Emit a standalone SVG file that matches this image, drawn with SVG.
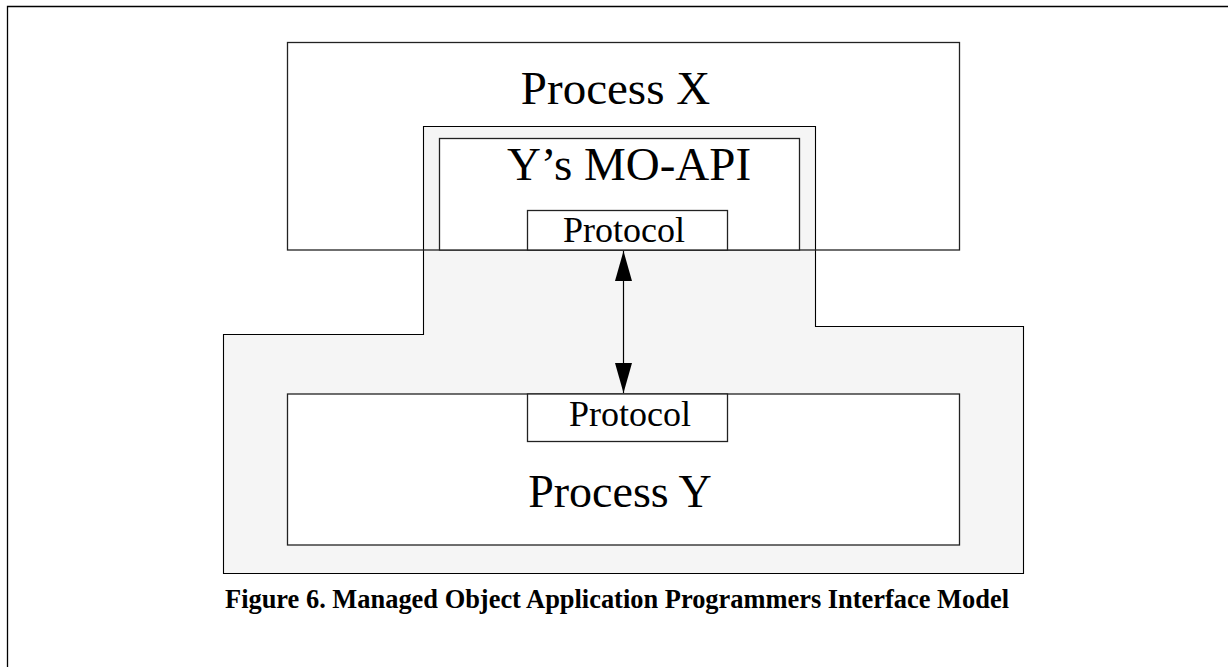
<svg xmlns="http://www.w3.org/2000/svg" width="1228" height="667" viewBox="0 0 1228 667">
  <style>
    .frame { fill: none; stroke: #000; stroke-width: 1.3; }
    .region { fill: #f5f5f5; stroke: #000; stroke-width: 1.1; }
    .box { fill: #fff; stroke: #222; stroke-width: 1.3; }
    .outline { fill: none; stroke: #222; stroke-width: 1.3; }
    .label { font-family: "Liberation Serif", "Times New Roman", serif; fill: #000; text-anchor: middle; }
    .big { font-size: 47px; }
    .small { font-size: 36px; }
    .caption { font-family: "Liberation Serif", "Times New Roman", serif; font-weight: bold; font-size: 27px; fill: #000; }
    .link { stroke: #000; stroke-width: 1.2; fill: none; }
  </style>
  <defs>
    <marker id="head" viewBox="0 0 30 17" refX="30" refY="8.5" markerWidth="30" markerHeight="17" markerUnits="userSpaceOnUse" orient="auto-start-reverse">
      <path d="M0,0 L30,8.5 L0,17 Z" fill="#000"/>
    </marker>
  </defs>

  <rect width="1228" height="667" fill="#fff"/>

  <!-- page frame: left and top rules only -->
  <path class="frame" d="M7.5,667 V6.5 H1228"/>

  <!-- shaded region holding Process Y and its API inside Process X -->
  <g id="y-domain">
    <path class="region" d="M223.5,334.5 H423.5 V126.5 H815.5 V326.5 H1023.5 V573.5 H223.5 Z"/>
  </g>

  <g id="process-x">
    <rect class="outline" x="287.5" y="42.5" width="672" height="207.5"/>
    <text class="label big" x="615.5" y="104">Process X</text>
  </g>

  <g id="mo-api">
    <rect class="box" x="439.5" y="138.5" width="360" height="111.5"/>
    <text class="label big" x="629" y="179.5">Y’s MO-API</text>
  </g>

  <g id="protocol-x">
    <rect class="box" x="527.5" y="210.5" width="200" height="39.5"/>
    <text class="label small" x="624" y="241.5">Protocol</text>
  </g>

  <g id="process-y">
    <rect class="box" x="287.5" y="394" width="672" height="151"/>
    <text class="label big" x="620" y="506.5" style="font-size:46px">Process Y</text>
  </g>

  <g id="protocol-y">
    <rect class="box" x="527.5" y="394" width="200" height="47.5"/>
    <text class="label small" x="630" y="425.5">Protocol</text>
  </g>

  <g id="connectors">
    <line class="link" x1="623.5" y1="251" x2="623.5" y2="393" marker-start="url(#head)" marker-end="url(#head)"/>
  </g>

  <text class="caption" x="225" y="608" textLength="784" lengthAdjust="spacingAndGlyphs">Figure 6. Managed Object Application Programmers Interface Model</text>
</svg>
